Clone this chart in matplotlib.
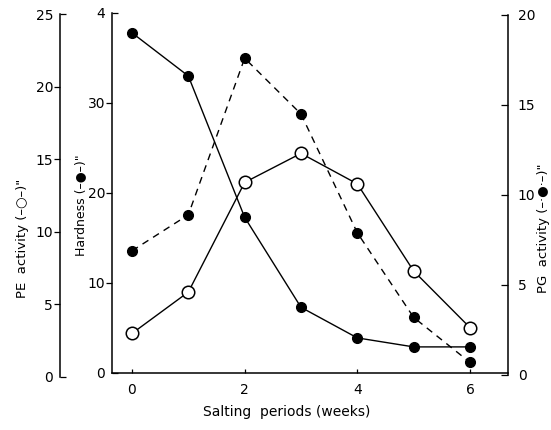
import matplotlib
matplotlib.use("Agg")
import matplotlib.pyplot as plt
from matplotlib.ticker import FixedLocator, FixedFormatter

weeks = [0, 1, 2, 3, 4, 5, 6]
pe_activity = [3.0, 5.85, 13.4, 15.4, 13.3, 7.3, 3.4]
hardness = [37.8, 33.0, 17.3, 7.3, 3.9, 2.9, 2.9]
pg_activity = [6.9, 8.9, 17.6, 14.5, 7.9, 3.2, 0.7]

x_ticks = [0, 2, 4, 6]
W, H = 551, 430
fig = plt.figure(figsize=(W / 100, H / 100), dpi=100)

def rect(l, r, t, b):
    return [l / W, (H - b) / H, (r - l) / W, (b - t) / H]

FS = 10
LFS = 9.5
XL = (-0.355, 6.675)

# Hardness (main) axes
ax = fig.add_axes(rect(112, 508, 13, 373))
ax.set_xlim(*XL)
ax.set_ylim(0, 40)
for s in ("top", "right"):
    ax.spines[s].set_visible(False)
for s in ("left", "bottom"):
    ax.spines[s].set_linewidth(1.1)
ax.set_xticks(x_ticks)
ax.set_xticklabels([str(t) for t in x_ticks], fontsize=FS)
ax.tick_params(axis="x", direction="in", length=3, pad=7, width=0.9)
ax.yaxis.set_major_locator(FixedLocator([10, 20, 30]))
ax.yaxis.set_major_formatter(FixedFormatter(["10", "20", "30"]))
ax.yaxis.set_minor_locator(FixedLocator([0, 40]))
ax.yaxis.set_minor_formatter(FixedFormatter(["0", "4"]))
ax.tick_params(axis="y", which="major", direction="out", length=4, pad=1, width=0.9, labelsize=FS)
ax.tick_params(axis="y", which="minor", direction="in", length=4, pad=5, width=0.9, labelsize=FS)
ax.plot(weeks, hardness, color="black", lw=1.0, marker="o", markersize=7,
        markerfacecolor="black", markeredgecolor="black", zorder=3, clip_on=False)

# PE axes (outer left)
ax_pe = fig.add_axes(rect(112, 508, 14, 377))
ax_pe.patch.set_visible(False)
ax_pe.set_xlim(*XL)
ax_pe.set_ylim(0, 25)
for s in ("top", "right", "bottom"):
    ax_pe.spines[s].set_visible(False)
ax_pe.spines["left"].set_position(("outward", 52 / 1.389))
ax_pe.spines["left"].set_linewidth(1.1)
ax_pe.xaxis.set_visible(False)
ax_pe.yaxis.set_major_locator(FixedLocator([5, 10, 15, 20]))
ax_pe.yaxis.set_major_formatter(FixedFormatter(["5", "10", "15", "20"]))
ax_pe.yaxis.set_minor_locator(FixedLocator([0, 25]))
ax_pe.yaxis.set_minor_formatter(FixedFormatter(["0", "25"]))
ax_pe.tick_params(axis="y", which="major", direction="out", length=4, pad=1, width=0.9, labelsize=FS)
ax_pe.tick_params(axis="y", which="minor", direction="in", length=4, pad=5, width=0.9, labelsize=FS)
ax_pe.plot(weeks, pe_activity, color="black", lw=1.0, marker="o", markersize=9,
           markerfacecolor="white", markeredgecolor="black", markeredgewidth=1.1,
           zorder=3, clip_on=False)

# PG axes (right)
ax_pg = fig.add_axes(rect(112, 508, 15, 375))
ax_pg.patch.set_visible(False)
ax_pg.set_xlim(*XL)
ax_pg.set_ylim(0, 20)
for s in ("top", "left", "bottom"):
    ax_pg.spines[s].set_visible(False)
ax_pg.spines["right"].set_linewidth(1.1)
ax_pg.xaxis.set_visible(False)
ax_pg.yaxis.tick_right()
ax_pg.set_yticks([0, 5, 10, 15, 20])
ax_pg.set_yticklabels(["0", "5", "10", "15", "20"], fontsize=FS)
ax_pg.tick_params(axis="y", direction="in", length=5, pad=7, width=0.9)
ax_pg.plot(weeks, pg_activity, color="black", lw=1.0, linestyle=(0, (5, 4)),
           marker="o", markersize=7, markerfacecolor="black", markeredgecolor="black",
           zorder=3, clip_on=False)

# Axis titles
fig.text(23 / W, 1 - 238 / H, 'PE  activity (–○–)"', rotation=90, ha="center", va="center", fontsize=LFS)
fig.text(81 / W, 1 - 205 / H, 'Hardness (–●–)"', rotation=90, ha="center", va="center", fontsize=9)
fig.text(544 / W, 1 - 228 / H, 'PG  activity (–·●·–)"', rotation=90, ha="center", va="center", fontsize=LFS)
fig.text(287 / W, 1 - 412 / H, "Salting  periods (weeks)", ha="center", va="center", fontsize=FS)

fig.savefig("out.png", dpi=100)
